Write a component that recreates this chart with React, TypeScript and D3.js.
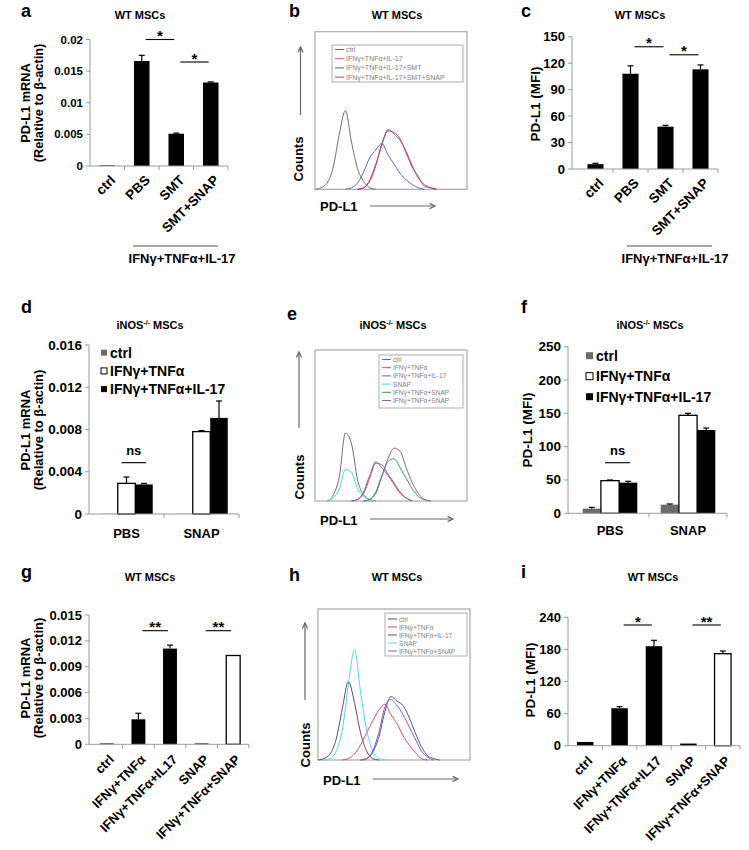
import React from 'react';
import * as d3 from 'd3';

const FONT = '"Liberation Sans", Arial, Helvetica, sans-serif';
const AXIS = '#9a9a9a';
const GRAY_BAR = '#6b6b6b';

// ---------- bar chart data ----------
const aCategories = ['ctrl', 'PBS', 'SMT', 'SMT+SNAP'];
const aValues = [0.0001, 0.0166, 0.0051, 0.0132];
const aErrors = [0, 0.0009, 0.0001, 0.0001];
const aTicks = [0, 0.005, 0.01, 0.015, 0.02];
const aTickLabels = ['0', '0.005', '0.01', '0.015', '0.02'];

const cCategories = ['ctrl', 'PBS', 'SMT', 'SMT+SNAP'];
const cValues = [5.5, 108, 48, 113];
const cErrors = [1, 9, 1.5, 5];
const cTicks = [0, 30, 60, 90, 120, 150];
const cTickLabels = ['0', '30', '60', '90', '120', '150'];

const dGroups = ['PBS', 'SNAP'];
const dSeries = ['ctrl', 'IFNγ+TNFα', 'IFNγ+TNFα+IL-17'];
const dCtrl = [0.00002, 0.00002];
const dIfnTnf = [0.0029, 0.0078];
const dIfnTnfIl17 = [0.0028, 0.0091];
const dCtrlErr = [0, 0];
const dIfnTnfErr = [0.0006, 0.0001];
const dIfnTnfIl17Err = [0.0001, 0.0016];
const dTicks = [0, 0.004, 0.008, 0.012, 0.016];
const dTickLabels = ['0', '0.004', '0.008', '0.012', '0.016'];

const fGroups = ['PBS', 'SNAP'];
const fSeries = ['ctrl', 'IFNγ+TNFα', 'IFNγ+TNFα+IL-17'];
const fCtrl = [7, 13];
const fIfnTnf = [49, 147];
const fIfnTnfIl17 = [46, 125];
const fCtrlErr = [2, 1];
const fIfnTnfErr = [1, 3];
const fIfnTnfIl17Err = [2, 3];
const fTicks = [0, 50, 100, 150, 200, 250];
const fTickLabels = ['0', '50', '100', '150', '200', '250'];

const gCategories = ['ctrl', 'IFNγ+TNFα', 'IFNγ+TNFα+IL17', 'SNAP', 'IFNγ+TNFα+SNAP'];
const gValues = [0.0001, 0.0029, 0.0111, 0.0001, 0.0103];
const gErrors = [0, 0.0007, 0.0004, 0, 0.00005];
const gTicks = [0, 0.003, 0.006, 0.009, 0.012, 0.015];
const gTickLabels = ['0', '0.003', '0.006', '0.009', '0.012', '0.015'];

const iCategories = ['ctrl', 'IFNγ+TNFα', 'IFNγ+TNFα+IL17', 'SNAP', 'IFNγ+TNFα+SNAP'];
const iValues = [7, 70, 186, 4, 172];
const iErrors = [0.5, 3, 11, 0.5, 5];
const iTicks = [0, 60, 120, 180, 240];
const iTickLabels = ['0', '60', '120', '180', '240'];

// significance marks: [from bar, to bar, level (data units), text]
const aSigs = [[1, 2, 0.02, '*'], [2, 3, 0.01644, '*']];
const cSigs = [[1, 2, 138.6, '*'], [2, 3, 129.5, '*']];
const gSigs = [[1, 2, 0.01318, '**'], [3, 4, 0.01318, '**']];
const iSigs = [[1, 2, 225.6, '*'], [3, 4, 225.6, '**']];

// ---------- flow histogram data (percent of box height) ----------
const bins = [0, 4, 8, 12, 16, 20, 24, 28, 32, 36, 40, 44, 48, 52, 56, 60, 64, 68, 72, 76, 80, 84, 88, 92, 96, 100];

const bCtrl = [0, 1, 4, 14, 35, 50, 30, 13, 5, 1, 0, 0, 0, 0, 0, 0, 0, 0, 0, 0, 0, 0, 0, 0, 0, 0];
const bIl17 = [0, 0, 0, 0, 0, 0, 0, 0, 1, 6, 16, 28, 38, 35, 31, 24, 15, 7, 3, 1, 0, 0, 0, 0, 0, 0];
const bSmt = [0, 0, 0, 0, 0, 0, 1, 4, 11, 20, 25, 29, 22, 16, 10, 6, 3, 1, 0, 0, 0, 0, 0, 0, 0, 0];
const bSmtSnap = [0, 0, 0, 0, 0, 0, 0, 0, 1, 5, 15, 29, 37, 36, 32, 23, 14, 8, 2, 1, 0, 0, 0, 0, 0, 0];

const eCtrl = [0, 0, 0, 4, 16, 45, 38, 14, 4, 1, 0, 0, 0, 0, 0, 0, 0, 0, 0, 0, 0, 0, 0, 0, 0, 0];
const eIfnTnf = [0, 0, 0, 0, 0, 0, 0, 1, 5, 15, 25, 24, 18, 12, 6, 2, 0, 0, 0, 0, 0, 0, 0, 0, 0, 0];
const eIl17 = [0, 0, 0, 0, 0, 0, 0, 1, 6, 17, 26, 22, 17, 11, 5, 2, 0, 0, 0, 0, 0, 0, 0, 0, 0, 0];
const eSnap = [0, 0, 0, 2, 8, 21, 19, 8, 3, 1, 0, 0, 0, 0, 0, 0, 0, 0, 0, 0, 0, 0, 0, 0, 0, 0];
const eIfnTnfSnap = [0, 0, 0, 0, 0, 0, 0, 0, 0, 1, 6, 17, 26, 28, 22, 15, 8, 3, 1, 0, 0, 0, 0, 0, 0, 0];
const eIfnTnfSnap2 = [0, 0, 0, 0, 0, 0, 0, 0, 0, 1, 5, 16, 28, 35, 33, 22, 12, 5, 1, 0, 0, 0, 0, 0, 0, 0];

const hCtrl = [0, 1, 4, 14, 34, 52, 38, 18, 6, 1, 0, 0, 0, 0, 0, 0, 0, 0, 0, 0, 0, 0, 0, 0, 0, 0];
const hIfnTnf = [0, 0, 0, 0, 0, 1, 4, 10, 18, 26, 33, 37, 30, 24, 16, 10, 5, 1, 0, 0, 0, 0, 0, 0, 0, 0];
const hIl17 = [0, 0, 0, 0, 0, 0, 0, 0, 1, 5, 15, 32, 42, 39, 36, 28, 18, 9, 3, 1, 0, 0, 0, 0, 0, 0];
const hSnap = [0, 0, 1, 6, 20, 50, 73, 45, 20, 6, 1, 0, 0, 0, 0, 0, 0, 0, 0, 0, 0, 0, 0, 0, 0, 0];
const hIfnTnfSnap = [0, 0, 0, 0, 0, 0, 0, 0, 1, 6, 18, 35, 40, 36, 30, 22, 14, 6, 2, 0, 0, 0, 0, 0, 0, 0];

// ---------- shared pieces ----------
function YAxis({ y, ticks, labels, x, fontSize }) {
  const [r0, r1] = y.range();
  return (
    <g>
      <line x1={x} x2={x} y1={r0} y2={r1} stroke={AXIS} />
      {ticks.map((t, i) => (
        <g key={i}>
          <line x1={x - 4} x2={x} y1={y(t)} y2={y(t)} stroke={AXIS} />
          <text x={x - 7} y={y(t)} textAnchor="end" dominantBaseline="central"
            fontSize={fontSize} fontWeight="bold">{labels[i]}</text>
        </g>
      ))}
    </g>
  );
}

function XAxis({ x, y0, axisX }) {
  const [s, e] = x.range();
  const n = x.domain().length;
  const marks = d3.range(1, n + 1).map((i) => s + i * x.step());
  return (
    <g>
      <line x1={axisX} x2={e} y1={y0} y2={y0} stroke={AXIS} />
      {marks.map((m, i) => (
        <line key={i} x1={m} x2={m} y1={y0} y2={y0 + 4} stroke={AXIS} />
      ))}
    </g>
  );
}

function YTitle({ lines, xs, cy, fontSize }) {
  return (
    <g>
      {lines.map((l, i) => (
        <text key={i} transform={`translate(${xs[i]},${cy}) rotate(-90)`} textAnchor="middle"
          dominantBaseline="central" fontSize={fontSize} fontWeight="bold">{l}</text>
      ))}
    </g>
  );
}

function PanelHead({ letter, lx, ly, title, tx, ty, sup }) {
  return (
    <g>
      <text x={lx} y={ly} fontSize={18} fontWeight="bold">{letter}</text>
      <text x={tx} y={ty} textAnchor="middle" fontSize={11} fontWeight="bold">
        {sup ? (
          <>
            iNOS<tspan fontSize={7} dy={-4}>-/-</tspan><tspan dy={4}> MSCs</tspan>
          </>
        ) : title}
      </text>
    </g>
  );
}

function ErrorBar({ cx, yTop, yErr }) {
  if (Math.abs(yTop - yErr) < 0.5) return null;
  return (
    <g stroke="#000" strokeWidth={1.2}>
      <line x1={cx} x2={cx} y1={yTop} y2={yErr} />
      <line x1={cx - 3} x2={cx + 3} y1={yErr} y2={yErr} />
    </g>
  );
}

// ---------- single-series bar panel ----------
function BarPanel({ p }) {
  const x = d3.scaleBand().domain(p.cats).range(p.xRange).padding(0);
  const y = d3.scaleLinear().domain(p.domain).range(p.yRange);
  const bw = x.bandwidth() * p.barFrac;
  const y0 = y(0);
  const cx = (i) => x(p.cats[i]) + x.bandwidth() / 2;
  return (
    <g>
      <PanelHead {...p.head} />
      <YTitle lines={p.yTitle} xs={p.yTitleX} cy={p.yTitleY} fontSize={p.yTitleFont} />
      <YAxis y={y} ticks={p.ticks} labels={p.tickLabels} x={p.axisX} fontSize={p.tickFont} />
      {p.cats.map((c, i) => {
        const v = p.values[i];
        return (
          <g key={c}>
            <rect x={cx(i) - bw / 2} y={y(v)} width={bw} height={y0 - y(v)}
              fill={p.fills[i]} stroke="#000" strokeWidth={p.fills[i] === '#fff' ? 1.3 : 0} />
            <ErrorBar cx={cx(i)} yTop={y(v)} yErr={y(v + p.errors[i])} />
          </g>
        );
      })}
      <XAxis x={x} y0={y0} axisX={p.axisX} />
      {p.cats.map((c, i) => (
        <text key={c} transform={`translate(${cx(i) + p.lblDx},${y0 + p.lblDy}) rotate(-45)`}
          textAnchor="end" fontSize={p.lblFont} fontWeight="bold">{c}</text>
      ))}
      {p.sigs.map(([a, b, lvl, t], i) => {
        const x1 = cx(a) + 4;
        const x2 = cx(b) - 2;
        return (
          <g key={i}>
            <line x1={x1} x2={x2} y1={y(lvl)} y2={y(lvl)} stroke="#000" strokeWidth={1.1} />
            <text x={(x1 + x2) / 2} y={y(lvl) + 1.5} textAnchor="middle" fontSize={15} fontWeight="bold">{t}</text>
          </g>
        );
      })}
      {p.group && (
        <g>
          <line x1={p.group.x1} x2={p.group.x2} y1={p.group.y} y2={p.group.y} stroke="#8a8a8a" strokeWidth={1.5} />
          <text x={p.group.tx} y={p.group.ty} textAnchor="middle" fontSize={13} fontWeight="bold">{p.group.text}</text>
        </g>
      )}
    </g>
  );
}

// ---------- grouped bar panel ----------
function GroupPanel({ p }) {
  const x = d3.scaleBand().domain(p.groups).range(p.xRange).padding(0);
  const y = d3.scaleLinear().domain(p.domain).range(p.yRange);
  const gw = x.bandwidth() * p.groupFrac;
  const y0 = y(0);
  const inner = d3.scaleBand().domain(p.series.map((s) => s.name)).range([-gw / 2, gw / 2]);
  const gc = (g) => x(g) + x.bandwidth() / 2;
  const sc = (g, s) => gc(g) + inner(s) + inner.bandwidth() / 2;
  return (
    <g>
      <PanelHead {...p.head} />
      <YTitle lines={p.yTitle} xs={p.yTitleX} cy={p.yTitleY} fontSize={p.yTitleFont} />
      <YAxis y={y} ticks={p.ticks} labels={p.tickLabels} x={p.axisX} fontSize={p.tickFont} />
      {p.groups.map((g, gi) => (
        <g key={g}>
          {p.series.map((s) => {
            const v = s.values[gi];
            return (
              <g key={s.name}>
                <rect x={gc(g) + inner(s.name)} y={y(v)} width={inner.bandwidth()} height={y0 - y(v)}
                  fill={s.fill} stroke="#000" strokeWidth={s.fill === '#fff' ? 1.3 : 0} />
                <ErrorBar cx={sc(g, s.name)} yTop={y(v)} yErr={y(v + s.errors[gi])} />
              </g>
            );
          })}
          <text x={gc(g)} y={p.catY} textAnchor="middle" fontSize={13} fontWeight="bold">{g}</text>
        </g>
      ))}
      <XAxis x={x} y0={y0} axisX={p.axisX} />
      {(() => {
        const g = p.groups[0];
        const x1 = sc(g, p.series[1].name) - 5;
        const x2 = sc(g, p.series[2].name) + 2;
        const ly = y(p.nsLevel);
        return (
          <g>
            <line x1={x1} x2={x2} y1={ly} y2={ly} stroke="#000" strokeWidth={1.1} />
            <text x={(x1 + x2) / 2} y={ly - 8} textAnchor="middle" fontSize={13} fontWeight="bold">ns</text>
          </g>
        );
      })()}
      {p.series.map((s, i) => (
        <g key={s.name}>
          <rect x={p.legend.x} y={p.legend.y0 + i * p.legend.step - p.legend.size / 2}
            width={p.legend.size} height={p.legend.size} fill={s.fill}
            stroke="#000" strokeWidth={s.fill === '#fff' ? 1 : 0} />
          <text x={p.legend.x + p.legend.size + 3} y={p.legend.y0 + i * p.legend.step}
            dominantBaseline="central" fontSize={14} fontWeight="bold">{s.name}</text>
        </g>
      ))}
    </g>
  );
}

// ---------- flow histogram panel ----------
function Arrow({ x1, y1, x2, y2 }) {
  const ang = Math.atan2(y2 - y1, x2 - x1);
  const h = 6;
  const a1 = ang + Math.PI - 0.45;
  const a2 = ang + Math.PI + 0.45;
  return (
    <g stroke="#666" strokeWidth={1.2} fill="none">
      <line x1={x1} y1={y1} x2={x2} y2={y2} />
      <polyline points={`${x2 + h * Math.cos(a1)},${y2 + h * Math.sin(a1)} ${x2},${y2} ${x2 + h * Math.cos(a2)},${y2 + h * Math.sin(a2)}`} />
    </g>
  );
}

function FlowPanel({ p }) {
  const [bx0, by0, bx1, by1] = p.box;
  const x = d3.scaleLinear().domain([0, 100]).range([bx0, bx1]);
  const y = d3.scaleLinear().domain([0, 100]).range([by1, by0]);
  const line = d3.line().x((d) => x(d[0])).y((d) => y(d[1])).curve(d3.curveMonotoneX);
  const [lx0, ly0, lx1, ly1] = p.legendBox;
  return (
    <g>
      <PanelHead {...p.head} />
      <rect x={bx0} y={by0} width={bx1 - bx0} height={by1 - by0} fill="none" stroke="#a8a8a8" strokeWidth={1.2} />
      {p.curves.map((c) => {
        const pts = bins.map((b, i) => [b, c.values[i]]).filter((d, i, arr) =>
          d[1] > 0 || (arr[i - 1] && arr[i - 1][1] > 0) || (arr[i + 1] && arr[i + 1][1] > 0));
        return <path key={c.name + c.color} d={line(pts)} fill="none" stroke={c.color} strokeWidth={1} />;
      })}
      <rect x={lx0} y={ly0} width={lx1 - lx0} height={ly1 - ly0} fill="#fff" stroke="#999" strokeWidth={0.8} />
      {p.curves.map((c, i) => {
        const yy = p.legendY0 + i * p.legendStep;
        return (
          <g key={'l' + i}>
            <line x1={lx0 + 3} x2={lx0 + 12} y1={yy} y2={yy} stroke={c.color} strokeWidth={1} />
            <text x={lx0 + 14} y={yy} dominantBaseline="central" fontSize={p.legendFont} fill="#808080">{c.name}</text>
          </g>
        );
      })}
      <Arrow {...p.upArrow} />
      <text transform={`translate(${p.counts[0]},${p.counts[1]}) rotate(-90)`} textAnchor="middle"
        dominantBaseline="central" fontSize={13} fontWeight="bold">Counts</text>
      <text x={p.pdl1[0]} y={p.pdl1[1]} dominantBaseline="central" fontSize={13} fontWeight="bold">PD-L1</text>
      <Arrow {...p.rightArrow} />
    </g>
  );
}

// ---------- panel layouts ----------
const panelA = {
  head: { letter: 'a', lx: 21, ly: 17, title: 'WT MSCs', tx: 140, ty: 19 },
  cats: aCategories, values: aValues, errors: aErrors, fills: ['#000', '#000', '#000', '#000'],
  xRange: [90, 228], axisX: 90, yRange: [166, 39.5], domain: [0, 0.02],
  ticks: aTicks, tickLabels: aTickLabels, tickFont: 11.5,
  yTitle: ['PD-L1 mRNA', '(Relative to β-actin)'], yTitleX: [25, 38.5], yTitleY: 103, yTitleFont: 12.8,
  barFrac: 0.45, lblDx: 9, lblDy: 15, lblFont: 13.5, sigs: aSigs,
  group: { x1: 133, x2: 218, y: 246, text: 'IFNγ+TNFα+IL-17', tx: 182, ty: 263 },
};

const panelC = {
  head: { letter: 'c', lx: 521, ly: 17, title: 'WT MSCs', tx: 640, ty: 19 },
  cats: cCategories, values: cValues, errors: cErrors, fills: ['#000', '#000', '#000', '#000'],
  xRange: [578, 718], axisX: 572, yRange: [169, 36.7], domain: [0, 150],
  ticks: cTicks, tickLabels: cTickLabels, tickFont: 13,
  yTitle: ['PD-L1 (MFI)'], yTitleX: [535], yTitleY: 104, yTitleFont: 13.5,
  barFrac: 0.46, lblDx: 9, lblDy: 15, lblFont: 13.5, sigs: cSigs,
  group: { x1: 627, x2: 712, y: 246, text: 'IFNγ+TNFα+IL-17', tx: 675, ty: 263 },
};

const panelG = {
  head: { letter: 'g', lx: 21, ly: 578, title: 'WT MSCs', tx: 150, ty: 581 },
  cats: gCategories, values: gValues, errors: gErrors, fills: ['#000', '#000', '#000', '#000', '#fff'],
  xRange: [91, 249], axisX: 89, yRange: [744.3, 615], domain: [0, 0.015],
  ticks: gTicks, tickLabels: gTickLabels, tickFont: 13,
  yTitle: ['PD-L1 mRNA', '(Relative to β-actin)'], yTitleX: [25, 38.5], yTitleY: 678, yTitleFont: 13,
  barFrac: 0.44, lblDx: 8, lblDy: 16, lblFont: 13, sigs: gSigs,
};

const panelI = {
  head: { letter: 'i', lx: 521, ly: 578, title: 'WT MSCs', tx: 653, ty: 581 },
  cats: iCategories, values: iValues, errors: iErrors, fills: ['#000', '#000', '#000', '#000', '#fff'],
  xRange: [568, 740], axisX: 568, yRange: [745.7, 617.3], domain: [0, 240],
  ticks: iTicks, tickLabels: iTickLabels, tickFont: 13,
  yTitle: ['PD-L1 (MFI)'], yTitleX: [530], yTitleY: 680, yTitleFont: 13.5,
  barFrac: 0.48, lblDx: 8, lblDy: 16, lblFont: 13, sigs: iSigs,
};

const panelD = {
  head: { letter: 'd', lx: 21, ly: 313, sup: true, tx: 150, ty: 329 },
  groups: dGroups,
  series: [
    { name: dSeries[0], values: dCtrl, errors: dCtrlErr, fill: GRAY_BAR },
    { name: dSeries[1], values: dIfnTnf, errors: dIfnTnfErr, fill: '#fff' },
    { name: dSeries[2], values: dIfnTnfIl17, errors: dIfnTnfIl17Err, fill: '#000' },
  ],
  xRange: [89, 239], axisX: 89, yRange: [514, 345], domain: [0, 0.016],
  ticks: dTicks, tickLabels: dTickLabels, tickFont: 13.5,
  yTitle: ['PD-L1 mRNA', '(Relative to β-actin)'], yTitleX: [25, 38.5], yTitleY: 430, yTitleFont: 13,
  groupFrac: 0.7, catY: 538, nsLevel: 0.00486,
  legend: { x: 101, y0: 352.7, step: 18.2, size: 6 },
};

const panelF = {
  head: { letter: 'f', lx: 521, ly: 313, sup: true, tx: 650, ty: 329 },
  groups: fGroups,
  series: [
    { name: fSeries[0], values: fCtrl, errors: fCtrlErr, fill: GRAY_BAR },
    { name: fSeries[1], values: fIfnTnf, errors: fIfnTnfErr, fill: '#fff' },
    { name: fSeries[2], values: fIfnTnfIl17, errors: fIfnTnfIl17Err, fill: '#000' },
  ],
  xRange: [571, 727], axisX: 568, yRange: [513.3, 346.7], domain: [0, 250],
  ticks: fTicks, tickLabels: fTickLabels, tickFont: 13.5,
  yTitle: ['PD-L1 (MFI)'], yTitleX: [527], yTitleY: 430, yTitleFont: 13.5,
  groupFrac: 0.7, catY: 535, nsLevel: 75.9,
  legend: { x: 586, y0: 355.7, step: 20.5, size: 7 },
};

const panelB = {
  head: { letter: 'b', lx: 289, ly: 17, title: 'WT MSCs', tx: 397, ty: 19 },
  box: [315, 31.7, 467, 189.3],
  legendBox: [332, 45, 463, 82], legendY0: 49.5, legendStep: 9.2, legendFont: 7,
  curves: [
    { name: 'ctrl', color: '#707070', values: bCtrl },
    { name: 'IFNγ+TNFα+IL-17', color: '#d0506a', values: bIl17 },
    { name: 'IFNγ+TNFα+IL-17+SMT', color: '#5a64b4', values: bSmt },
    { name: 'IFNγ+TNFα+IL-17+SMT+SNAP', color: '#8a4a8a', values: bSmtSnap },
  ],
  upArrow: { x1: 300.5, y1: 115, x2: 300.5, y2: 47 },
  counts: [298, 159], pdl1: [320, 206],
  rightArrow: { x1: 370, y1: 206, x2: 435, y2: 206 },
};

const panelE = {
  head: { letter: 'e', lx: 287, ly: 320, sup: true, tx: 393, ty: 329 },
  box: [315, 350, 467, 501],
  legendBox: [379, 355, 463, 408], legendY0: 359.5, legendStep: 8.2, legendFont: 6.6,
  curves: [
    { name: 'ctrl', color: '#6e6e6e', values: eCtrl },
    { name: 'IFNγ+TNFα', color: '#d0506a', values: eIfnTnf },
    { name: 'IFNγ+TNFα+IL-17', color: '#6a6a90', values: eIl17 },
    { name: 'SNAP', color: '#3fe0d0', values: eSnap },
    { name: 'IFNγ+TNFα+SNAP', color: '#3e9a5c', values: eIfnTnfSnap },
    { name: 'IFNγ+TNFα+SNAP', color: '#8a6a8a', values: eIfnTnfSnap2 },
  ],
  upArrow: { x1: 299, y1: 428, x2: 299, y2: 352 },
  counts: [299, 477], pdl1: [320, 520],
  rightArrow: { x1: 370, y1: 519, x2: 453, y2: 519 },
};

const panelH = {
  head: { letter: 'h', lx: 289, ly: 581, title: 'WT MSCs', tx: 397, ty: 581 },
  box: [318, 609, 470, 760],
  legendBox: [385, 613, 467, 656], legendY0: 619, legendStep: 8, legendFont: 6.6,
  curves: [
    { name: 'ctrl', color: '#5a4a62', values: hCtrl },
    { name: 'IFNγ+TNFα', color: '#c8506a', values: hIfnTnf },
    { name: 'IFNγ+TNFα+IL-17', color: '#4a56a8', values: hIl17 },
    { name: 'SNAP', color: '#45e0d8', values: hSnap },
    { name: 'IFNγ+TNFα+SNAP', color: '#8a5a9a', values: hIfnTnfSnap },
  ],
  upArrow: { x1: 305, y1: 700, x2: 305, y2: 623 },
  counts: [305, 745], pdl1: [323, 780],
  rightArrow: { x1: 373, y1: 779, x2: 458, y2: 779 },
};

export default function App() {
  return (
    <svg width={749} height={850} viewBox="0 0 749 850"
      style={{ position: 'absolute', left: 0, top: 0, background: '#fff', fontFamily: FONT }}>
      <rect width={749} height={850} fill="#fff" />
      <BarPanel p={panelA} />
      <FlowPanel p={panelB} />
      <BarPanel p={panelC} />
      <GroupPanel p={panelD} />
      <FlowPanel p={panelE} />
      <GroupPanel p={panelF} />
      <BarPanel p={panelG} />
      <FlowPanel p={panelH} />
      <BarPanel p={panelI} />
    </svg>
  );
}
